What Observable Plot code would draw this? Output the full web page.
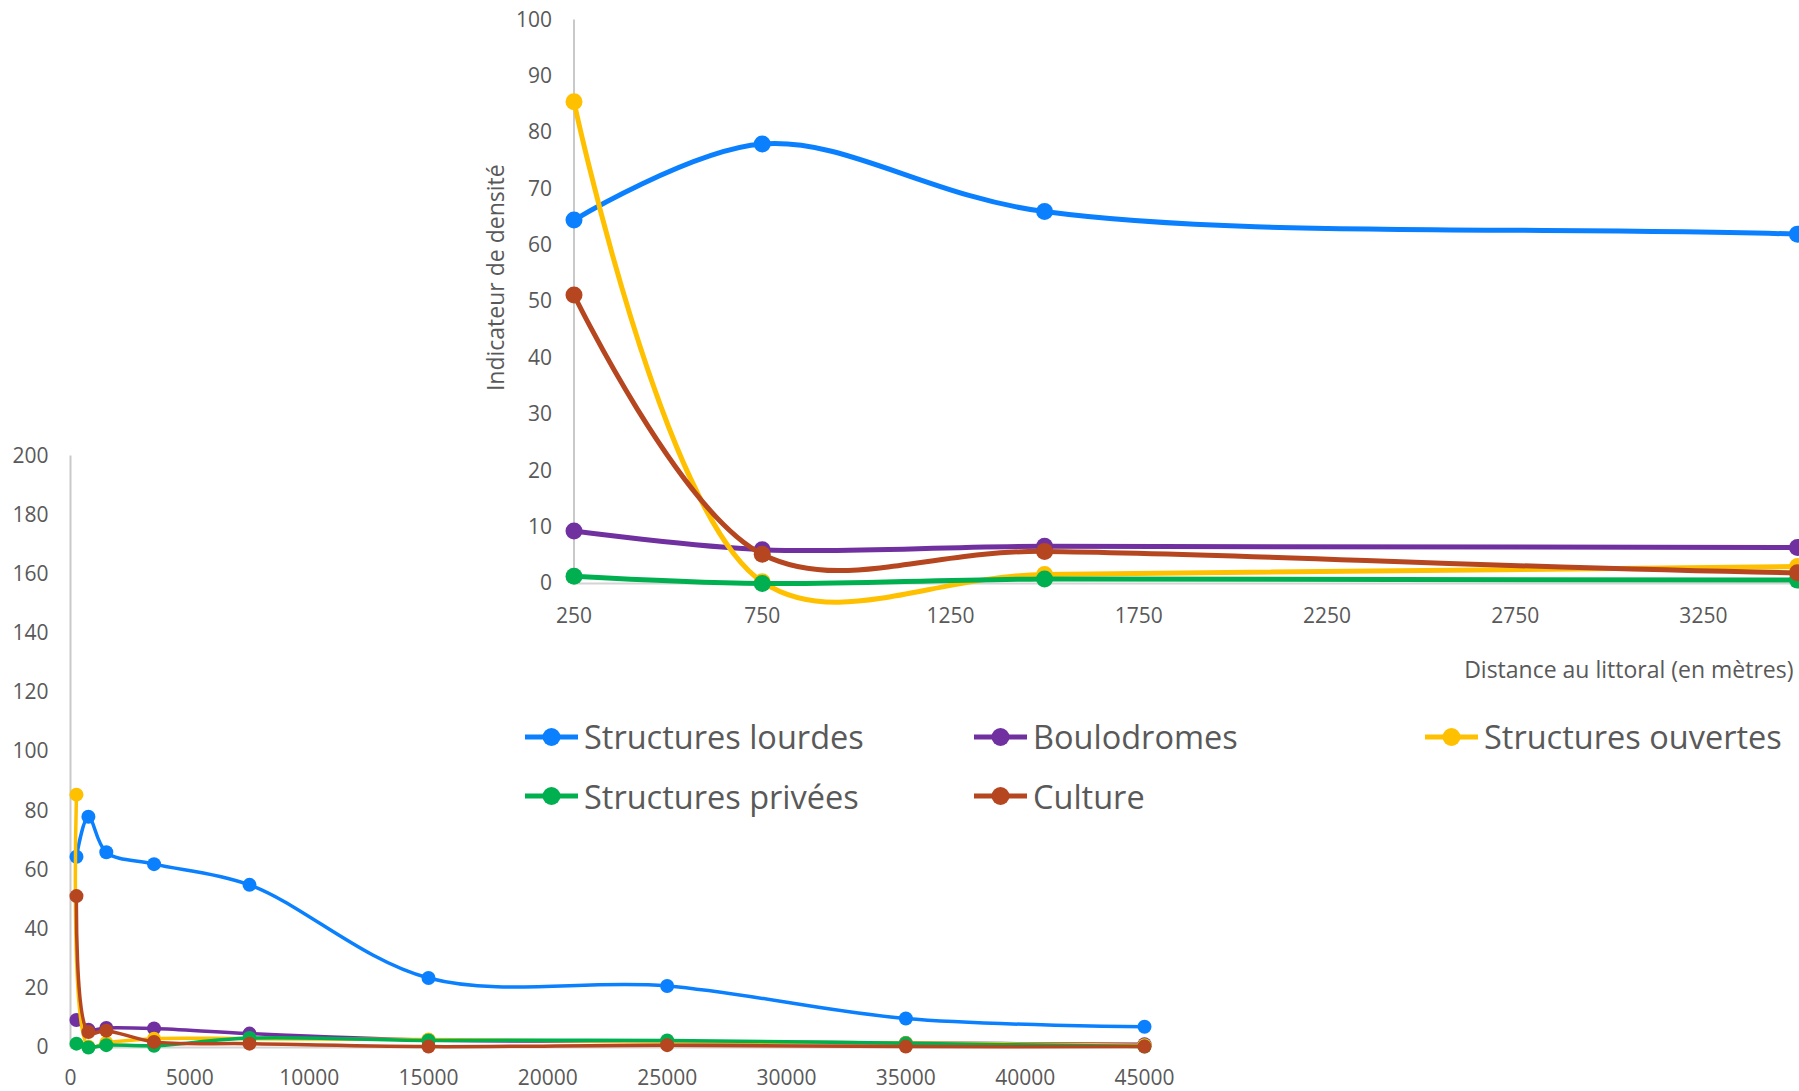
<!DOCTYPE html>
<html>
<head>
<meta charset="utf-8">
<script src="https://cdn.jsdelivr.net/npm/d3@7"></script>
<script src="https://cdn.jsdelivr.net/npm/@observablehq/plot@0.6"></script>
<style>
  html, body { margin: 0; padding: 0; background: #fff; overflow: hidden; }
  #wrap { position: relative; width: 1799px; height: 1091px; overflow: hidden; background: #fff; font-family: "Open Sans", sans-serif; }
  #wrap > svg, #wrap > figure { position: absolute; left: 0; top: 0; margin: 0; }
  .leg { position: absolute; display: flex; align-items: center; height: 50px; font-size: 32.5px; color: #595959; white-space: nowrap; }
  .leg svg { margin-right: 6px; }
</style>
</head>
<body>
<div id="wrap"></div>
<script>
// ---- data ----
const distances = [250, 750, 1500, 3500, 7500, 15000, 25000, 35000, 45000];
const seriesNames = ["Structures lourdes", "Boulodromes", "Structures ouvertes", "Structures privées", "Culture"];
const seriesColors = ["#0a80ff", "#7030a0", "#ffc000", "#00b050", "#b5461f"];
const lourdes     = [64.5, 78.0, 66.0, 62.0, 55.0, 23.5, 20.8, 9.8, 7.0];
const boulodromes = [9.3, 6.0, 6.6, 6.4, 4.7, 2.5, 2.0, 1.5, 1.1];
const ouvertes    = [85.5, 0.3, 1.6, 3.0, 3.0, 2.7, 2.0, 1.5, 0.8];
const privees     = [1.3, 0.0, 0.8, 0.6, 3.2, 2.4, 2.4, 1.4, 0.3];
const culture     = [51.2, 5.2, 5.7, 1.9, 1.3, 0.3, 0.8, 0.3, 0.3];
const mainXTicks = [0, 5000, 10000, 15000, 20000, 25000, 30000, 35000, 40000, 45000];
const mainYTicks = [0, 20, 40, 60, 80, 100, 120, 140, 160, 180, 200];
const insetXTicks = [250, 750, 1250, 1750, 2250, 2750, 3250];
const insetYTicks = [0, 10, 20, 30, 40, 50, 60, 70, 80, 90, 100];
const yTitle = "Indicateur de densité";
const xTitle = "Distance au littoral (en mètres)";

const allValues = [lourdes, boulodromes, ouvertes, privees, culture];
const rows = [];
seriesNames.forEach((s, i) => distances.forEach((d, j) => rows.push({s, d, v: allValues[i][j]})));

const wrap = document.getElementById("wrap");
const textColor = "#595959";

function seriesMarks(lw, r) {
  const marks = [];
  seriesNames.forEach((s, i) => {
    const data = rows.filter(d => d.s === s);
    marks.push(Plot.line(data, {x: "d", y: "v", stroke: seriesColors[i], strokeWidth: lw, curve: "catmull-rom"}));
    marks.push(Plot.dot(data, {x: "d", y: "v", r, fill: seriesColors[i], stroke: "none"}));
  });
  return marks;
}

// ---- main (lower) chart ----
const main = Plot.plot({
  width: 1200, height: 1091,
  marginLeft: 70, marginRight: 56, marginTop: 455.5, marginBottom: 44,
  style: {fontFamily: "Open Sans, sans-serif", fontSize: "21px", color: textColor, background: "transparent", overflow: "visible"},
  x: {domain: [0, 45000], ticks: mainXTicks, tickFormat: d => String(d), tickSize: 0, tickPadding: 23, label: null},
  y: {domain: [0, 200], ticks: mainYTicks, tickFormat: d => String(d), tickSize: 0, tickPadding: 22, label: null},
  marks: [
    Plot.ruleX([0], {y1: 0, y2: 200, stroke: "#c9c9c9", strokeWidth: 2}),
    Plot.ruleY([0], {x1: 0, x2: 45000, stroke: "#d4d4d4", strokeWidth: 2}),
    ...seriesMarks(3.5, 7)
  ]
});
wrap.appendChild(main);

// ---- inset (upper) chart ----
const inset = Plot.plot({
  width: 1799, height: 700,
  marginLeft: 573.5, marginRight: 2, marginTop: 19.5, marginBottom: 117,
  style: {fontFamily: "Open Sans, sans-serif", fontSize: "21px", color: textColor, background: "transparent", overflow: "visible"},
  x: {domain: [250, 3500], ticks: insetXTicks, tickFormat: d => String(d), tickSize: 0, tickPadding: 25, label: null},
  y: {domain: [0, 100], ticks: insetYTicks, tickFormat: d => String(d), tickSize: 0, tickPadding: 22, label: null},
  marks: [
    Plot.ruleX([250], {y1: 0, y2: 100, stroke: "#c9c9c9", strokeWidth: 2}),
    Plot.ruleY([0], {x1: 250, x2: 3500, stroke: "#d4d4d4", strokeWidth: 2}),
    ...seriesMarks(5, 8.5),
    Plot.text([yTitle], {text: d => d, frameAnchor: "left", dx: -77, dy: -24, rotate: -90, fontSize: 23, fill: textColor, textAnchor: "middle", lineAnchor: "middle"}),
    Plot.text([xTitle], {text: d => d, frameAnchor: "bottom-right", dx: -4, dy: 87, fontSize: 23, fill: textColor, textAnchor: "end", lineAnchor: "middle"})
  ]
});
wrap.appendChild(inset);

// ---- legend ----
const legendPos = [[525, 736.6], [974, 736.6], [1425, 736.6], [525, 796.2], [974, 796.2]];
seriesNames.forEach((s, i) => {
  const div = document.createElement("div");
  div.className = "leg";
  div.style.left = legendPos[i][0] + "px";
  div.style.top = (legendPos[i][1] - 25) + "px";
  const c = seriesColors[i];
  div.innerHTML = `<svg width="53" height="20"><line x1="0" x2="53" y1="10" y2="10" stroke="${c}" stroke-width="5"/><circle cx="26.5" cy="10" r="9" fill="${c}"/></svg><span>${s}</span>`;
  wrap.appendChild(div);
});
</script>
</body>
</html>
